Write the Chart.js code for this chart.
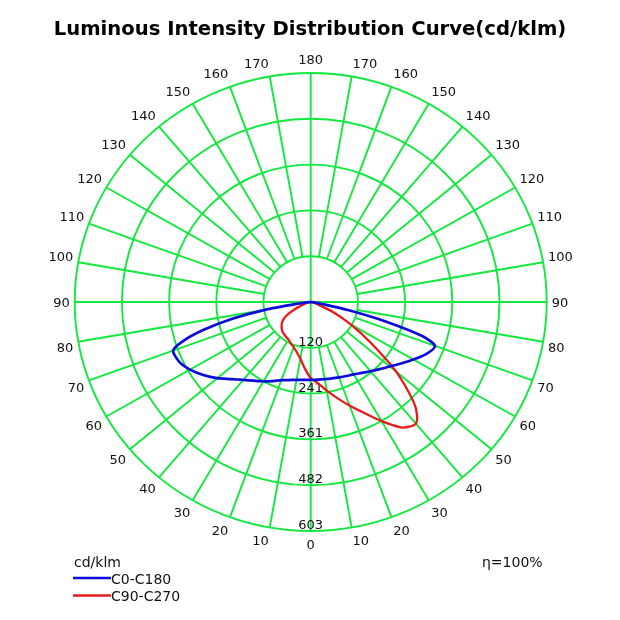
<!DOCTYPE html>
<html>
<head>
<meta charset="utf-8">
<script src="https://cdn.jsdelivr.net/npm/chart.js@4.4.1/dist/chart.umd.min.js"></script>
<style>
  html, body { margin: 0; padding: 0; background: #fff; }
  canvas { display: block; }
</style>
</head>
<body>
<canvas id="lidc" width="620" height="620"></canvas>
<script>
// cd/klm values, angle measured from nadir (0), negative = left half
const seriesNames = ['C0-C180', 'C90-C270'];
const seriesColors = ['#0b0bdc', '#e41c1c'];

const anglesC0 = [-90, -85, -82.5, -80, -77.5, -75, -72.5, -70, -65, -60, -55, -50, -45, -40, -35, -30, -25, -20, -15, -10, -5,
                  0, 5, 10, 15, 20, 25, 30, 35, 40, 45, 50, 55, 60, 65, 70, 72.5, 75, 77.5, 80, 85, 90];
const valuesC0 = [0, 5, 30, 119, 207, 283, 342, 374, 371, 356, 335, 312, 287, 268, 253, 241, 230, 219, 213, 208, 206,
                  205, 205, 206, 208, 211, 215, 220, 228, 238, 250, 264, 282, 303, 325, 338, 300, 200, 100, 30, 5, 0];

const anglesC90 = [-90, -85, -80, -75, -70, -65, -60, -55, -50, -45, -40, -35, -30, -25, -20, -15, -10, -5,
                   0, 5, 10, 15, 20, 25, 30, 35, 37.5, 40, 42.5, 45, 50, 55, 60, 65, 70, 75, 80, 85, 90];
const valuesC90 = [0, 1, 4, 10, 22, 45, 71, 88, 97, 104, 108, 111, 114, 120, 127, 137, 152, 175,
                   200, 215, 237, 262, 290, 322, 362, 403, 414, 418, 402, 372, 285, 188, 118, 64, 22, 8, 3, 1, 0];

const scaleMax = 603;
const ringValues = [120.6, 241.2, 361.8, 482.4, 603];
const ringLabels = ['120', '241', '361', '482', '603'];
const angleTicks = [0, 10, 20, 30, 40, 50, 60, 70, 80, 90, 100, 110, 120, 130, 140, 150, 160, 170, 180];

const titleText = 'Luminous Intensity Distribution Curve(cd/klm)';
const unitText = 'cd/klm';
const etaText = 'η=100%';

const gridColor = '#12e83e';
const FONT = '"DejaVu Sans", Verdana, sans-serif';

function toXY(angles, values) {
    return angles.map((a, i) => ({
        x: values[i] * Math.sin(a * Math.PI / 180),
        y: -values[i] * Math.cos(a * Math.PI / 180)
    }));
}

const polarGrid = {
    id: 'polarGrid',
    beforeDatasetsDraw(chart) {
        const { ctx, scales: { x, y } } = chart;
        const cx = x.getPixelForValue(0), cy = y.getPixelForValue(0);
        const rx = v => x.getPixelForValue(v) - cx;
        const ry = v => cy - y.getPixelForValue(v);
        ctx.save();
        ctx.strokeStyle = gridColor;
        ctx.lineWidth = 1.9;
        ringValues.forEach(v => {
            ctx.beginPath();
            ctx.ellipse(cx, cy, rx(v), ry(v), 0, 0, 2 * Math.PI);
            ctx.stroke();
        });
        for (let a = 0; a < 360; a += 10) {
            const s = Math.sin(a * Math.PI / 180), c = Math.cos(a * Math.PI / 180);
            const r0 = a % 90 === 0 ? 0 : ringValues[0];
            ctx.beginPath();
            ctx.moveTo(cx + rx(r0) * s, cy + ry(r0) * c);
            ctx.lineTo(cx + rx(scaleMax) * s, cy + ry(scaleMax) * c);
            ctx.stroke();
        }

        // angle labels round the outer ring
        ctx.fillStyle = '#111';
        ctx.font = '13px ' + FONT;
        const asc = ctx.measureText('0').actualBoundingBoxAscent;
        angleTicks.forEach(t => {
            const sides = (t === 0 || t === 180) ? [1] : [-1, 1];
            sides.forEach(side => {
                const s = side * Math.sin(t * Math.PI / 180), c = Math.cos(t * Math.PI / 180);
                const px = cx + rx(scaleMax) * s + 5 * s;
                const py = cy + ry(scaleMax) * c + 9 * c;
                ctx.textAlign = s < -0.01 ? 'right' : (s > 0.01 ? 'left' : 'center');
                ctx.textBaseline = 'alphabetic';
                let by = py + asc / 2;
                if (c < -0.1) by = py;
                else if (c > 0.1) by = py + asc;
                ctx.fillText(String(t), px, by);
            });
        });

        // intensity labels along the nadir line
        ctx.textAlign = 'center';
        ringLabels.forEach((lab, i) => {
            ctx.fillText(lab, cx, cy + ry(ringValues[i]) - 2);
        });
        ctx.restore();
    },
    afterDraw(chart) {
        const { ctx } = chart;
        ctx.save();
        ctx.fillStyle = '#000';
        ctx.textBaseline = 'alphabetic';

        // title, fitted to the reference width
        ctx.font = 'bold 18px ' + FONT;
        const w = ctx.measureText(titleText).width;
        const size = 18 * 513 / w;
        ctx.font = 'bold ' + size.toFixed(2) + 'px ' + FONT;
        ctx.textAlign = 'center';
        ctx.fillText(titleText, 310, 35);

        ctx.font = '14px ' + FONT;
        ctx.textAlign = 'left';
        ctx.fillStyle = '#111';
        ctx.fillText(unitText, 74, 567);
        ctx.fillText(etaText, 482, 567);

        chart.data.datasets.forEach((ds, i) => {
            const ly = 578 + i * 17.5;
            ctx.strokeStyle = ds.borderColor;
            ctx.lineWidth = 2.5;
            ctx.beginPath();
            ctx.moveTo(73, ly);
            ctx.lineTo(111, ly);
            ctx.stroke();
            ctx.fillStyle = '#111';
            ctx.fillText(ds.label, 111, ly + 5.5);
        });
        ctx.restore();
    }
};

const ctx = document.getElementById('lidc').getContext('2d');
new Chart(ctx, {
    type: 'scatter',
    data: {
        datasets: [
            {
                label: seriesNames[0],
                data: toXY(anglesC0, valuesC0),
                borderColor: seriesColors[0],
                borderWidth: 2.7,
                showLine: true,
                pointRadius: 0,
                tension: 0.25
            },
            {
                label: seriesNames[1],
                data: toXY(anglesC90, valuesC90),
                borderColor: seriesColors[1],
                borderWidth: 2.3,
                showLine: true,
                pointRadius: 0,
                tension: 0.25
            }
        ]
    },
    options: {
        responsive: false,
        animation: false,
        layout: { padding: { left: 74.7, right: 73.3, top: 73, bottom: 89 } },
        plugins: { legend: { display: false }, tooltip: { enabled: false } },
        scales: {
            x: { type: 'linear', min: -scaleMax, max: scaleMax, display: false },
            y: { type: 'linear', min: -scaleMax, max: scaleMax, display: false }
        }
    },
    plugins: [polarGrid]
});
</script>
</body>
</html>
